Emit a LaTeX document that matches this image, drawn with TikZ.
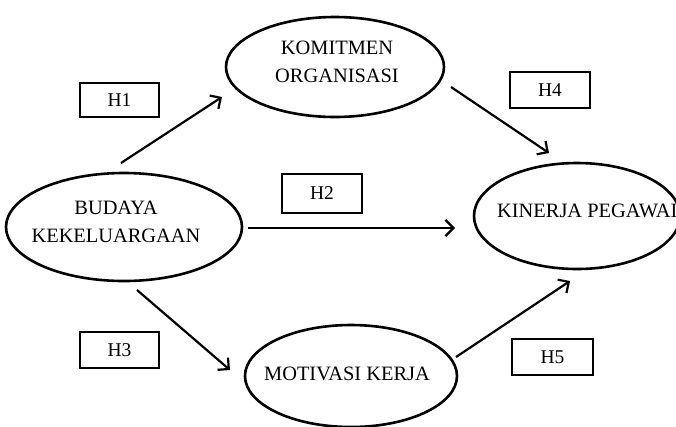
\documentclass[tikz,border=0pt]{standalone}
\usepackage{fontspec}
\setmainfont{Liberation Serif}
\usetikzlibrary{arrows.meta,shapes.geometric}
\begin{document}
\begin{tikzpicture}[x=1pt,y=-1pt,
  oval/.style={draw=black,ellipse,line width=2.6pt,inner sep=0pt},
  txt/.style={font=\fontsize{20.4}{28}\selectfont,align=center,inner sep=0pt},
  hbox/.style={draw=black,line width=2.6pt,inner sep=0pt,font=\fontsize{19.5}{22}\selectfont},
  arr/.style={line width=2.2pt,-{Straight Barb[length=8pt,width=16pt]}}]
\useasboundingbox (0,0) rectangle (676,426);
% ellipses
\node[oval,minimum width=218pt,minimum height=100pt] (kom) at (335,67) {};
\node[oval,minimum width=236pt,minimum height=108pt] (bud) at (124,227) {};
\node[oval,minimum width=206pt,minimum height=106pt] (kin) at (577,216) {};
\node[oval,minimum width=212pt,minimum height=102pt] (mot) at (351,376) {};
% texts
\node[txt] (komt) at (337,62) {KOMITMEN\\ORGANISASI};
\node[txt] (budt) at (116,222) {BUDAYA\\KEKELUARGAAN};
\node[txt,anchor=west] (kint) at (497,211) {KINERJA PEGAWAI};
\node[txt] (mott) at (347,374) {MOTIVASI KERJA};
% hypothesis boxes
\node[hbox,minimum width=79pt,minimum height=34pt] (h1) at (119.5,100) {H1};
\node[hbox,minimum width=80pt,minimum height=39pt] (h2) at (322,193.5) {H2};
\node[hbox,minimum width=80pt,minimum height=36pt] (h4) at (550,90) {H4};
\node[hbox,minimum width=79pt,minimum height=36pt] (h3) at (119.5,350) {H3};
\node[hbox,minimum width=81pt,minimum height=36pt] (h5) at (552.5,357) {H5};
% arrow end points
\coordinate (a1s) at (121,163); \coordinate (a1e) at (222,97);
\coordinate (a4s) at (451,87);  \coordinate (a4e) at (549,153);
\coordinate (a2s) at (248,228); \coordinate (a2e) at (455,228);
\coordinate (a3s) at (137,290); \coordinate (a3e) at (230,370);
\coordinate (a5s) at (456,357); \coordinate (a5e) at (570,281);
\draw[arr] (a1s) -- (a1e);
\draw[arr] (a4s) -- (a4e);
\draw[arr] (a2s) -- (a2e);
\draw[arr] (a3s) -- (a3e);
\draw[arr] (a5s) -- (a5e);
\end{tikzpicture}
\end{document}
